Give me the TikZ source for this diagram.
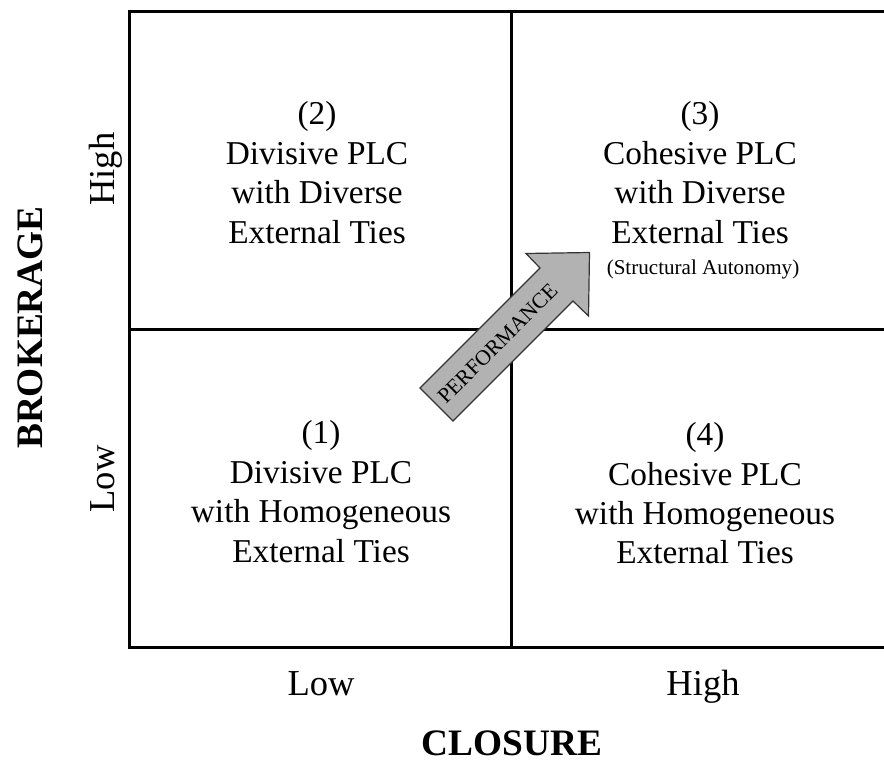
\documentclass[tikz,border=0pt]{standalone}
\usepackage{fontspec}
\setmainfont{Liberation Serif}
\begin{document}
\begin{tikzpicture}[x=0.75pt,y=-0.75pt,
  gridline/.style={line width=2.25pt, line cap=rect},
  quadtext/.style={anchor=base, inner sep=0pt, font=\fontsize{25}{30}\selectfont},
  smalltext/.style={anchor=base, inner sep=0pt, font=\fontsize{15.8}{19}\selectfont},
  axistext/.style={anchor=base, inner sep=0pt, font=\fontsize{27.4}{33}\selectfont},
  axistitle/.style={anchor=base, inner sep=0pt, font=\fontsize{28}{34}\selectfont\bfseries},
  arrowshape/.style={fill=black!30, draw=black!80, line width=0.9pt, line join=miter},
  perftext/.style={inner sep=0pt, font=\fontsize{16.2}{19}\selectfont}]
\useasboundingbox (0,0) rectangle (884,763);
% grid
\coordinate (tl) at (129,11.5);
\coordinate (tr) at (884,11.5);
\coordinate (bl) at (129,647.5);
\coordinate (br) at (884,647.5);
\coordinate (tm) at (511,11.5);
\coordinate (bm) at (511,647.5);
\coordinate (ml) at (129,329);
\coordinate (mr) at (884,329);
\draw[gridline] (tr) -- (tl) -- (bl) -- (br);
\draw[gridline] (tm) -- (bm);
\draw[gridline] (ml) -- (mr);
% arrow
\coordinate (a1) at (420,388);
\coordinate (a2) at (540,268);
\coordinate (a3) at (526,253.5);
\coordinate (a4) at (589.5,252.5);
\coordinate (a5) at (588.5,316);
\coordinate (a6) at (573,301);
\coordinate (a7) at (453,421);
\draw[arrowshape] (a1) -- (a2) -- (a3) -- (a4) -- (a5) -- (a6) -- (a7) -- cycle;
\node[perftext, rotate=45] (perf) at (497.5,343.5) {PERFORMANCE};
% quadrant 2
\node[quadtext] (q2a) at (317,125) {(2)};
\node[quadtext] (q2b) at (317,164) {Divisive PLC};
\node[quadtext] (q2c) at (317,203.5) {with Diverse};
\node[quadtext] (q2d) at (317,243) {External Ties};
% quadrant 3
\node[quadtext] (q3a) at (700,125) {(3)};
\node[quadtext] (q3b) at (700,164) {Cohesive PLC};
\node[quadtext] (q3c) at (700,203.5) {with Diverse};
\node[quadtext] (q3d) at (700,243) {External Ties};
\node[smalltext] (q3e) at (703,274) {(Structural Autonomy)};
% quadrant 1
\node[quadtext] (q1a) at (321,443) {(1)};
\node[quadtext] (q1b) at (321,483) {Divisive PLC};
\node[quadtext] (q1c) at (321,522) {with Homogeneous};
\node[quadtext] (q1d) at (321,562) {External Ties};
% quadrant 4
\node[quadtext] (q4a) at (705,445) {(4)};
\node[quadtext] (q4b) at (705,485) {Cohesive PLC};
\node[quadtext] (q4c) at (705,524) {with Homogeneous};
\node[quadtext] (q4d) at (705,563) {External Ties};
% axes
\node[axistext, rotate=90] (yhigh) at (114,169) {High};
\node[axistext, rotate=90] (ylow) at (114,479) {Low};
\node[axistitle, rotate=90] (ytitle) at (42,327.5) {BROKERAGE};
\node[axistext] (xlow) at (321,695) {Low};
\node[axistext] (xhigh) at (703,695) {High};
\node[axistitle] (xtitle) at (512,755.5) {CLOSURE};
\end{tikzpicture}
\end{document}
